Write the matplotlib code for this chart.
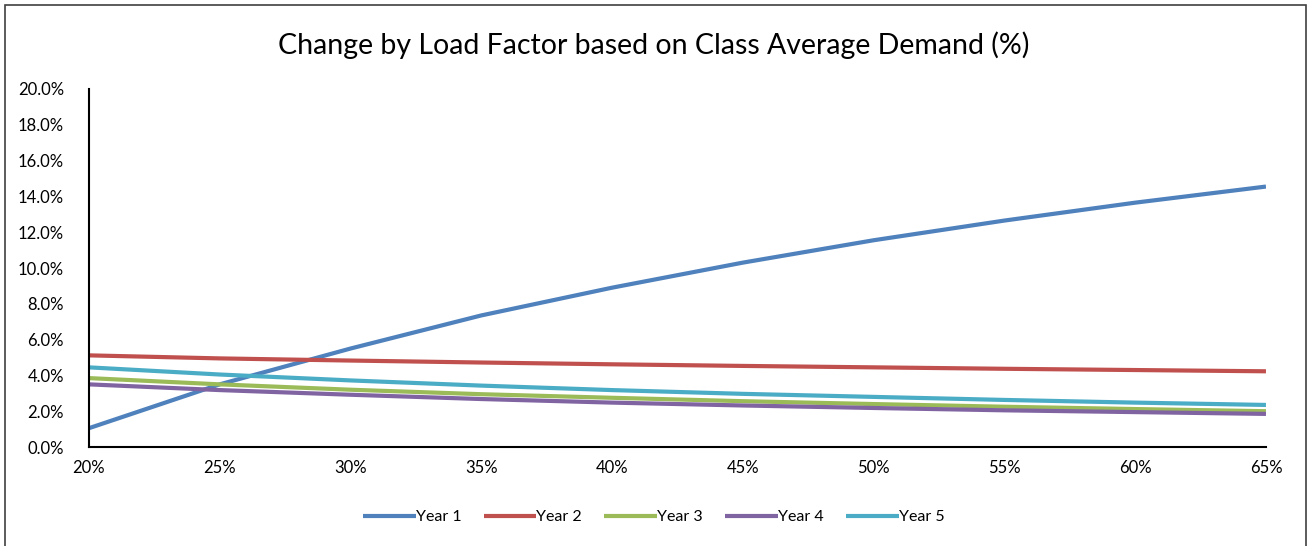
import matplotlib.pyplot as plt
from matplotlib.patches import Rectangle
from matplotlib.ticker import FuncFormatter

# Load factor (%) and change in class average demand (%)
load_factor = [20, 25, 30, 35, 40, 45, 50, 55, 60, 65]
year1 = [1.05, 3.5, 5.5, 7.35, 8.9, 10.3, 11.55, 12.65, 13.65, 14.55]
year2 = [5.12, 4.95, 4.83, 4.72, 4.62, 4.53, 4.45, 4.37, 4.3, 4.23]
year3 = [3.85, 3.5, 3.2, 2.95, 2.75, 2.56, 2.4, 2.25, 2.12, 2.0]
year4 = [3.5, 3.18, 2.92, 2.68, 2.48, 2.32, 2.18, 2.05, 1.95, 1.85]
year5 = [4.45, 4.05, 3.72, 3.43, 3.18, 2.97, 2.8, 2.63, 2.48, 2.35]

series = {"Year 1": year1, "Year 2": year2, "Year 3": year3,
          "Year 4": year4, "Year 5": year5}
colors = ["#4F81BD", "#C0504D", "#9BBB59", "#8064A2", "#4BACC6"]

FONT = "Lato"

fig = plt.figure(figsize=(13.07, 5.46), dpi=100)
ax = fig.add_axes([0.068, 0.1813, 0.9006, 0.6557])

for (name, vals), c in zip(series.items(), colors):
    ax.plot(load_factor, vals, color=c, lw=3, label=name, solid_capstyle="butt")

ax.set_xlim(20, 65)
ax.set_ylim(0, 20)
ax.set_xticks(range(20, 66, 5))
ax.set_yticks(range(0, 21, 2))
ax.xaxis.set_major_formatter(FuncFormatter(lambda v, p: f"{v:.0f}%"))
ax.yaxis.set_major_formatter(FuncFormatter(lambda v, p: f"{v:.1f}%"))
ax.tick_params(length=0, labelsize=12, pad=18)
ax.tick_params(axis="x", pad=9)
for lab in ax.get_xticklabels() + ax.get_yticklabels():
    lab.set_family(FONT)

for s in ["top", "right"]:
    ax.spines[s].set_visible(False)
for s in ["left", "bottom"]:
    ax.spines[s].set_color("black")
    ax.spines[s].set_linewidth(1.5)

fig.text(0.5, 0.917, "Change by Load Factor based on Class Average Demand (%)",
         ha="center", va="center", fontsize=20.5, family=FONT)

leg = fig.legend(loc="center", bbox_to_anchor=(0.5, 0.053), ncol=5, frameon=False,
                 prop={"family": FONT, "size": 11.5}, handlelength=3.3,
                 handletextpad=0.0, columnspacing=1.4)

fig.patches.append(Rectangle((0.004, -0.01), 0.995, 1.0, transform=fig.transFigure,
                             fill=False, edgecolor="#404040", lw=1.2))

fig.savefig("out.png", dpi=100)
